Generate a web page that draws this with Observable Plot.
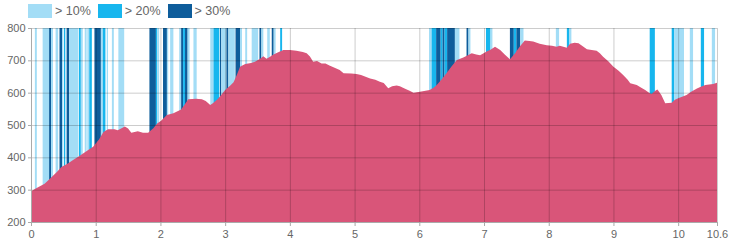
<!DOCTYPE html>
<html>
<head>
<meta charset="utf-8">
<script src="https://cdn.jsdelivr.net/npm/d3@7"></script>
<script src="https://cdn.jsdelivr.net/npm/@observablehq/plot@0.6"></script>
<style>
  body { margin: 0; background: #fff; font-family: "Liberation Sans", Arial, sans-serif; }
  #legend { height: 22px; display: flex; align-items: center; padding-left: 28px; font-size: 12.5px; color: #666; }
  .item { display: flex; align-items: center; margin-right: 7px; }
  .sw { width: 24px; height: 14px; margin-right: 3px; display: inline-block; }
  #chart svg { display: block; }
</style>
</head>
<body>
<div id="legend"></div>
<div id="chart"></div>
<script>
// Elevation profile (km, m)
const distKm = [0.00,0.08,0.21,0.30,0.40,0.47,0.57,0.65,0.73,0.85,0.96,1.05,1.12,1.19,1.29,1.34,1.40,1.45,1.50,1.55,1.65,1.73,1.81,1.89,1.95,2.01,2.10,2.20,2.32,2.38,2.43,2.55,2.64,2.70,2.77,2.81,2.87,2.92,3.00,3.08,3.13,3.18,3.23,3.31,3.40,3.46,3.54,3.59,3.64,3.70,3.74,3.82,3.90,4.00,4.10,4.20,4.26,4.31,4.36,4.42,4.49,4.55,4.62,4.70,4.77,4.83,4.95,5.03,5.10,5.24,5.32,5.39,5.45,5.52,5.58,5.65,5.70,5.78,5.85,5.91,6.01,6.16,6.22,6.27,6.35,6.42,6.50,6.58,6.68,6.75,6.81,6.88,6.94,7.04,7.10,7.17,7.25,7.32,7.40,7.48,7.55,7.63,7.70,7.76,7.86,7.97,8.05,8.12,8.17,8.28,8.33,8.40,8.46,8.52,8.59,8.69,8.74,8.79,8.84,8.92,9.00,9.08,9.15,9.22,9.26,9.36,9.43,9.49,9.55,9.59,9.64,9.68,9.74,9.80,9.90,9.95,10.00,10.13,10.20,10.29,10.35,10.42,10.54,10.60];
const elevation = [295,304,318,335,355,370,381,392,402,418,433,455,478,487,487,484,490,495,489,476,481,476,476,490,505,513,531,536,548,565,580,581,580,574,562,567,577,588,608,622,632,655,680,689,692,696,705,713,705,712,717,725,732,732,730,726,722,712,696,698,690,690,683,676,670,660,659,658,655,644,640,634,630,614,620,622,620,612,606,600,603,608,615,624,642,660,682,701,709,716,722,718,716,727,733,742,732,718,703,722,742,761,760,758,751,747,745,742,745,739,751,754,753,744,734,731,730,722,711,697,680,668,655,640,629,624,615,608,600,596,605,610,593,567,569,578,583,593,603,613,618,624,627,631];

// Gradient bands (km from, km to, grade class)
const bandFrom  = [0.06,0.18,0.28,0.31,0.38,0.44,0.48,0.51,0.55,0.59,0.74,0.77,0.83,0.87,0.90,0.98,1.08,1.11,1.17,1.25,1.35,1.83,1.93,1.95,2.04,2.10,2.15,2.29,2.32,2.35,2.38,2.42,2.51,2.77,2.82,2.92,2.94,3.02,3.05,3.16,3.23,3.31,3.41,3.53,3.56,3.65,3.72,3.75,3.85,6.15,6.19,6.26,6.33,6.36,6.39,6.43,6.55,6.73,6.76,7.03,7.10,7.40,7.46,7.50,7.56,8.11,8.28,8.32,9.56,9.90,9.94,10.18,10.35,10.52];
const bandTo    = [0.09,0.28,0.31,0.34,0.42,0.48,0.50,0.53,0.59,0.73,0.77,0.80,0.86,0.90,0.94,1.08,1.11,1.15,1.19,1.28,1.44,1.93,1.95,1.98,2.10,2.12,2.20,2.32,2.35,2.38,2.42,2.45,2.56,2.82,2.91,2.94,3.02,3.05,3.15,3.23,3.26,3.34,3.51,3.56,3.59,3.69,3.75,3.78,3.88,6.19,6.26,6.33,6.36,6.39,6.43,6.55,6.62,6.76,6.79,7.10,7.13,7.46,7.50,7.56,7.61,8.16,8.32,8.35,9.64,9.94,10.09,10.23,10.40,10.57];
const bandGrade = [10,10,30,10,10,30,10,20,30,10,20,10,10,10,20,30,10,20,10,10,10,30,20,10,30,10,10,10,30,20,30,10,10,10,20,30,10,30,10,30,10,10,10,30,10,10,30,10,20,10,20,30,20,30,20,30,10,30,10,20,10,30,20,30,10,10,20,10,20,20,10,10,20,10];

const gradeKeys = [10, 20, 30];
const gradeLabels = ["> 10%", "> 20%", "> 30%"];
const gradeColors = ["#a3ddf6", "#17b6ee", "#0e5d9b"];
const areaColor = "#d95579";

const xTicks = [0,1,2,3,4,5,6,7,8,9,10,10.6];
const yTicks = [200,300,400,500,600,700,800];

const profile = distKm.map((d, i) => ({km: d, elev: elevation[i]}));
const bands = bandFrom.map((d, i) => ({x1: d, x2: bandTo[i], grade: bandGrade[i]}));

// legend
const legend = document.getElementById("legend");
gradeKeys.forEach((g, i) => {
  const it = document.createElement("div");
  it.className = "item";
  it.innerHTML = `<span class="sw" style="background:${gradeColors[i]}"></span><span>${gradeLabels[i]}</span>`;
  legend.appendChild(it);
});

const chart = Plot.plot({
  width: 736,
  height: 228,
  marginTop: 6,
  marginBottom: 28,
  marginLeft: 31,
  marginRight: 19,
  style: {fontFamily: "Liberation Sans, Arial, sans-serif", fontSize: "11px", color: "#666", background: "white"},
  x: {domain: [xTicks[0], xTicks[xTicks.length - 1]], ticks: xTicks, tickFormat: d => String(d), label: null},
  y: {domain: [yTicks[0], yTicks[yTicks.length - 1]], ticks: yTicks, label: null},
  color: {domain: gradeKeys, range: gradeColors},
  marks: [
    Plot.rect(bands, {x1: "x1", x2: "x2", fill: "grade"}),
    Plot.areaY(profile, {x: "km", y1: () => yTicks[0], y2: "elev", fill: areaColor, curve: "linear"}),
    Plot.gridX(xTicks, {stroke: "#000", strokeOpacity: 0.2}),
    Plot.gridY(yTicks, {stroke: "#000", strokeOpacity: 0.2}),
    Plot.ruleX([xTicks[0]], {stroke: "#aaa"}),
    Plot.ruleY([yTicks[0]], {stroke: "#aaa"}),
    Plot.axisX({ticks: xTicks, tickSize: 4, tickPadding: 4, tickFormat: d => String(d), stroke: "#aaa", fill: "#666", label: null}),
    Plot.axisY({ticks: yTicks, tickSize: 3, tickPadding: 3, stroke: "#aaa", fill: "#666", label: null})
  ]
});
document.getElementById("chart").appendChild(chart);
</script>
</body>
</html>
